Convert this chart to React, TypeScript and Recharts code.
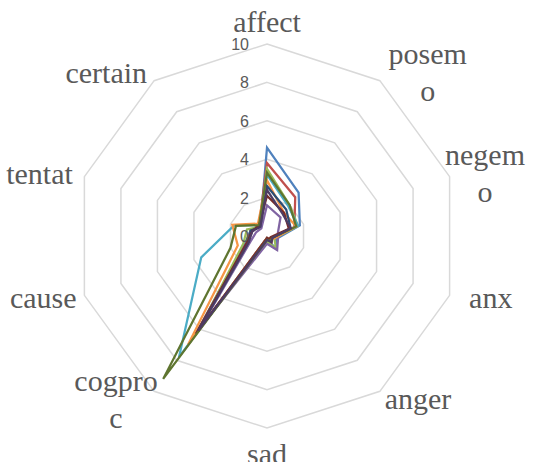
import React from 'react';
import { RadarChart, Radar, PolarGrid, PolarAngleAxis, PolarRadiusAxis } from 'recharts';

const categories = ['affect', 'posemo', 'negemo', 'anx', 'anger', 'sad', 'cogproc', 'cause', 'tentat', 'certain'];

const s1 = [4.6, 2.8, 1.8, 0.5, 0.8, 0.2, 6.3, 1.2, 0.9, 0.6];
const s2 = [3.8, 2.5, 1.5, 0.3, 0.4, 0.1, 6.2, 1.1, 0.9, 0.7];
const s3 = [3.5, 2.0, 1.7, 0.4, 0.8, 0.3, 6.0, 1.3, 1.1, 0.6];
const s4 = [1.6, 1.2, 0.6, 0.6, 0.9, 0.4, 5.9, 0.9, 0.6, 0.5];
const s5 = [3.2, 1.9, 1.7, 0.3, 0.3, 0.1, 7.8, 3.6, 1.8, 0.7];
const s6 = [2.9, 1.5, 1.6, 0.4, 0.2, 0.1, 7.0, 1.6, 1.9, 0.8];
const s7 = [2.6, 1.7, 1.3, 0.3, 0.3, 0.2, 6.1, 1.0, 0.9, 0.6];
const s8 = [2.1, 1.5, 1.2, 0.2, 0.2, 0.1, 6.3, 1.1, 0.8, 0.7];
const s9 = [3.3, 2.0, 1.6, 0.3, 0.3, 0.2, 9.2, 2.0, 1.7, 0.7];
const s10 = [2.4, 1.4, 1.3, 0.3, 0.4, 0.2, 6.1, 1.0, 0.8, 0.6];

const seriesValues = [s1, s2, s3, s4, s5, s6, s7, s8, s9, s10];
const seriesColors = ['#4F81BD', '#C0504D', '#9BBB59', '#8064A2', '#4BACC6', '#F79646', '#2C4D75', '#772C2A', '#5F7530', '#4D3B62'];

const radiusTicks = [0, 2, 4, 6, 8, 10];

const data = categories.map((c, i) => {
  const row: Record<string, string | number> = { axis: c };
  seriesValues.forEach((s, k) => { row['s' + (k + 1)] = s[i]; });
  return row;
});

const W = 545;
const H = 462;
const CX = 267;
const CY = 236;
const R = 192;
const LABEL_FONT = 30;
const LINE_H = 37;
const MAX_LINE = 90;

// Times metrics, so labels wrap like the original
const charW: Record<string, number> = {
  a: 0.444, c: 0.444, e: 0.444, f: 0.333, g: 0.5, i: 0.278, m: 0.778, n: 0.5,
  o: 0.5, p: 0.5, r: 0.333, s: 0.389, t: 0.278, u: 0.5, x: 0.5, d: 0.5,
};
const textWidth = (s: string) => s.split('').reduce((w, ch) => w + (charW[ch] ?? 0.5) * LABEL_FONT, 0);

function wrap(label: string): string[] {
  const lines: string[] = [];
  let cur = '';
  for (const ch of label) {
    if (cur && textWidth(cur + ch) > MAX_LINE) {
      lines.push(cur);
      cur = ch;
    } else cur += ch;
  }
  if (cur) lines.push(cur);
  return lines;
}

const AngleTick = (props: any) => {
  const { payload } = props;
  const ang = (payload.coordinate * Math.PI) / 180;
  const cos = Math.cos(ang);
  const sin = Math.sin(ang);
  const vx = CX + R * cos;
  const vy = CY - R * sin;
  const lines = wrap(String(payload.value));
  const w = Math.max(...lines.map(textWidth));
  const h = lines.length === 1 ? 30 : lines.length * LINE_H;
  let x = vx;
  let y = vy;
  if (Math.abs(cos) < 0.1) {
    y = vy - Math.sign(sin) * (h / 2 + (sin > 0 ? 7 : 11));
  } else {
    x = vx + Math.sign(cos) * (43 + 6 * sin);
    y = vy - sin * 10;
    // keep the label box inside the chart area
    x = Math.min(Math.max(x, w / 2 + 4), W - 20 - w / 2);
  }
  const first = y - ((lines.length - 1) * LINE_H) / 2 + 10;
  return (
    <text textAnchor="middle" fill="#595959" fontSize={LABEL_FONT} fontFamily="'Liberation Serif', 'Times New Roman', serif">
      {lines.map((l, i) => (
        <tspan key={i} x={x} y={first + i * LINE_H}>{l}</tspan>
      ))}
    </text>
  );
};

const RadiusTick = (props: any) => {
  const { x, y, payload } = props;
  return (
    <text x={x - 18} y={y + 6} textAnchor="end" fill="#595959" fontSize={16} fontFamily="'Liberation Sans', Arial, sans-serif">
      {payload.value}
    </text>
  );
};

export default function App() {
  return (
    <div style={{ position: 'absolute', left: 0, top: 0, width: W, height: H, background: '#fff', overflow: 'hidden' }}>
      <RadarChart width={W} height={H} data={data} cx={CX} cy={CY} outerRadius={R} margin={{ top: 0, right: 0, bottom: 0, left: 0 }}>
        <PolarGrid gridType="polygon" radialLines={false} stroke="#D9D9D9" strokeWidth={1.5} />
        <PolarAngleAxis dataKey="axis" tick={<AngleTick />} tickLine={false} axisLine={false} />
        <PolarRadiusAxis angle={90} domain={[0, 10]} ticks={radiusTicks} tickCount={6} axisLine={false} tickLine={false} tick={<RadiusTick />} />
        {seriesValues.map((_, k) => (
          <Radar
            key={k}
            dataKey={'s' + (k + 1)}
            stroke={seriesColors[k]}
            strokeWidth={2.25}
            fill="none"
            fillOpacity={0}
            dot={false}
            isAnimationActive={false}
          />
        ))}
      </RadarChart>
    </div>
  );
}
